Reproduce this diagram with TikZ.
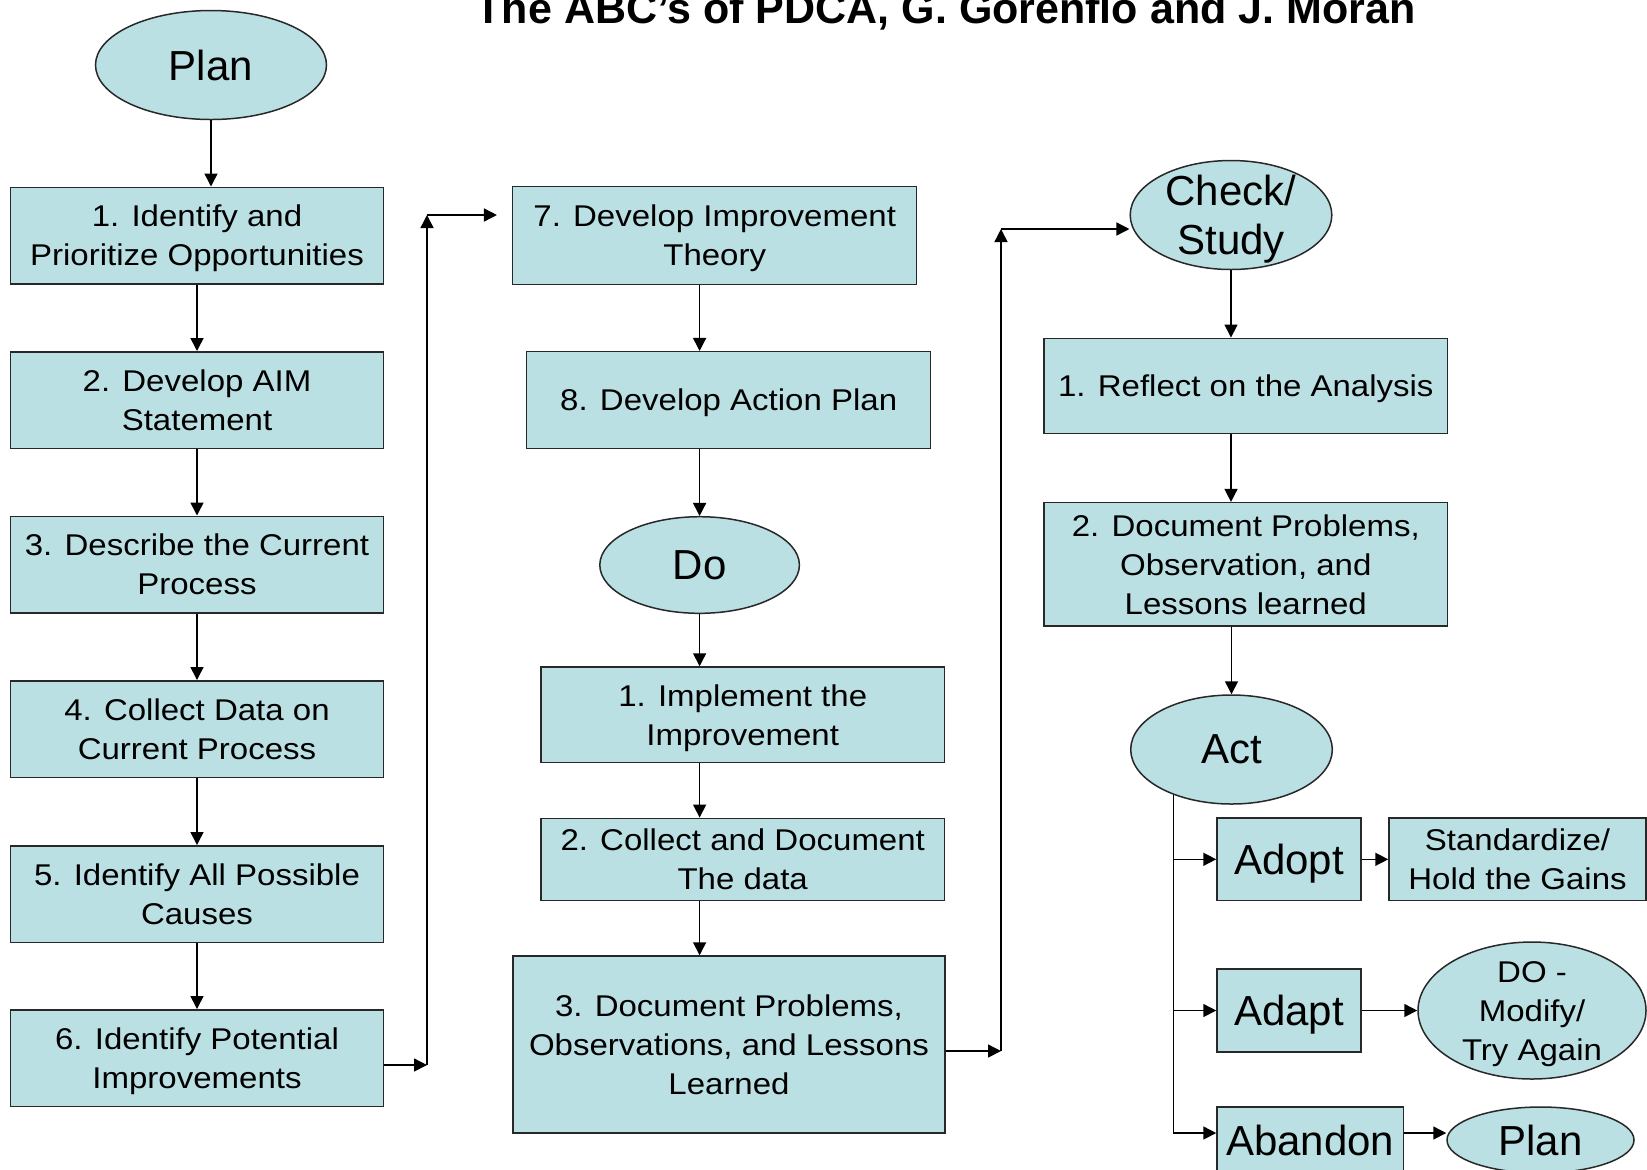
\documentclass[tikz,border=0pt]{standalone}
\usepackage{fontspec}
\setmainfont{Liberation Sans}
\newfontfamily\boxfont[FakeStretch=1.1]{Liberation Sans}
\usetikzlibrary{shapes.geometric,arrows.meta}
\definecolor{boxfill}{RGB}{187,224,227}
\definecolor{edgecol}{RGB}{40,40,40}
\begin{document}
\begin{tikzpicture}[x=0.5pt, y=-0.5pt,
  box/.style={draw=edgecol, fill=boxfill, line width=0.75pt, inner sep=0pt, align=center, text depth=0pt,
              font=\boxfont\fontsize{15pt}{19.5pt}\selectfont},
  bigbox/.style={box, font=\fontsize{21pt}{24.5pt}\selectfont},
  ell/.style={ellipse, draw=edgecol, fill=boxfill, line width=0.75pt, inner sep=0pt},
  etxt/.style={align=center, inner sep=0pt, text depth=0pt, font=\fontsize{21pt}{24.5pt}\selectfont},
  estxt/.style={align=center, inner sep=0pt, text depth=0pt, font=\boxfont\fontsize{15pt}{19.5pt}\selectfont},
  arr/.style={draw=black, line width=0.75pt, -{Triangle[length=6.5pt,width=6.5pt]}}]
\fill[white] (0,0) rectangle (1647,1169);
\useasboundingbox (0,0) rectangle (1647,1169);
\clip (0,0) rectangle (1647,1169);

% title
\node[anchor=base, inner sep=0pt, font=\bfseries\fontsize{21.5pt}{25pt}\selectfont] (title) at (945.5,23)
  {The ABC’s of PDCA, G. Gorenflo and J. Moran};

% Plan column
\node[ell, minimum width=115.5pt, minimum height=54.5pt] (plan) at (211,65) {};
\node[etxt] (plant) at (plan) {Plan};
\node[box, minimum width=186.5pt, minimum height=48.25pt] (b1) at (197,235.5) {1. Identify and\\Prioritize Opportunities};
\node[box, minimum width=186.5pt, minimum height=48.25pt] (b2) at (197,400) {2. Develop AIM\\Statement};
\node[box, minimum width=186.5pt, minimum height=48.25pt] (b3) at (197,564.5) {3. Describe the Current\\Process};
\node[box, minimum width=186.5pt, minimum height=48.25pt] (b4) at (197,729) {4. Collect Data on\\Current Process};
\node[box, minimum width=186.5pt, minimum height=48.25pt] (b5) at (197,894) {5. Identify All Possible\\Causes};
\node[box, minimum width=186.5pt, minimum height=48.25pt] (b6) at (197,1058) {6. Identify Potential\\Improvements};

% middle column
\node[box, minimum width=202pt, minimum height=48.8pt] (b7) at (714.7,235.5) {7. Develop Improvement\\Theory};
\node[box, minimum width=202pt, minimum height=48.3pt] (b8) at (728.7,400) {8. Develop Action Plan};
\node[ell, minimum width=99.8pt, minimum height=48.3pt] (do) at (699.6,565) {};
\node[etxt] (dot) at (do) {Do};
\node[box, minimum width=201.65pt, minimum height=47.8pt] (d1) at (742.7,714.8) {1. Implement the\\Improvement};
\node[box, minimum width=201.65pt, minimum height=41pt] (d2) at (742.7,859.3) {2. Collect and Document\\The data};
\node[box, minimum width=216pt, minimum height=88.5pt] (d3) at (729,1044.5) {3. Document Problems,\\Observations, and Lessons\\Learned};

% right column
\node[ell, minimum width=100.8pt, minimum height=54.5pt] (check) at (1231,215) {};
\node[etxt] (checkt) at (check) {Check/\\Study};
\node[box, minimum width=201.85pt, minimum height=47.5pt] (ck1) at (1245.8,385.8) {1. Reflect on the Analysis};
\node[box, minimum width=201.85pt, minimum height=61.65pt] (ck2) at (1245.8,564.3) {2. Document Problems,\\Observation, and\\Lessons learned};
\node[ell, minimum width=100.8pt, minimum height=54.5pt] (act) at (1231.5,749.5) {};
\node[etxt] (actt) at (act) {Act};
\node[bigbox, minimum width=72pt, minimum height=41.35pt] (adopt) at (1289,859.3) {Adopt};
\node[box, minimum width=128.5pt, minimum height=41.35pt] (std) at (1517.5,859.3) {Standardize/\\Hold the Gains};
\node[bigbox, minimum width=72pt, minimum height=41.5pt] (adapt) at (1289,1010.5) {Adapt};
\node[ell, minimum width=114pt, minimum height=68.5pt] (do2) at (1532,1010.5) {};
\node[estxt] (do2t) at (do2) {DO -\\Modify/\\Try Again};
\node[bigbox, minimum width=93.25pt, minimum height=33pt] (abandon) at (1310.25,1140) {Abandon};
\node[ell, minimum width=93.5pt, minimum height=33pt] (plan2) at (1540.5,1140) {};
\node[etxt] (plan2t) at (plan2) {Plan};

% junction points
\coordinate (j1) at (427,1065);
\coordinate (j2) at (427,215);
\coordinate (j3) at (1001,1051);
\coordinate (j4) at (1001,229);

% left column arrows
\draw[arr] (plan.south) -- (plan.south |- b1.north);
\draw[arr] (b1.south) -- (b2.north);
\draw[arr] (b2.south) -- (b3.north);
\draw[arr] (b3.south) -- (b4.north);
\draw[arr] (b4.south) -- (b5.north);
\draw[arr] (b5.south) -- (b6.north);
\draw[arr] (b6.east |- j1) -- (j1);
\draw[arr] (j1) -- (j2);
\draw[arr, shorten >=7.5pt] (j2) -- (b7.west |- j2);

% middle column arrows
\draw[arr] (b7.south -| do) -- (b8.north -| do);
\draw[arr] (b8.south -| do) -- (do.north);
\draw[arr] (do.south) -- (d1.north -| do);
\draw[arr] (d1.south -| do) -- (d2.north -| do);
\draw[arr] (d2.south -| do) -- (d3.north -| do);
\draw[arr] (d3.east |- j3) -- (j3);
\draw[arr] (j3) -- (j4);
\draw[arr] (j4) -- (check.west |- j4);

% right column arrows
\draw[arr] (check.south) -- (ck1.north -| check);
\draw[arr] (ck1.south -| check) -- (ck2.north -| check);
\draw[arr] (ck2.south -| act) -- (act.north);
\draw[arr] (act.218.5) |- ([yshift=3.5pt]abandon.west);
\draw[arr] (act.218.5 |- adopt.west) -- (adopt.west);
\draw[arr] (act.218.5 |- adapt.west) -- (adapt.west);
\draw[arr] (adopt.east) -- (std.west);
\draw[arr] (adapt.east) -- (do2.west);
\draw[arr] ([yshift=3.5pt]abandon.east) -- ([yshift=3.5pt]plan2.west);
\end{tikzpicture}
\end{document}
